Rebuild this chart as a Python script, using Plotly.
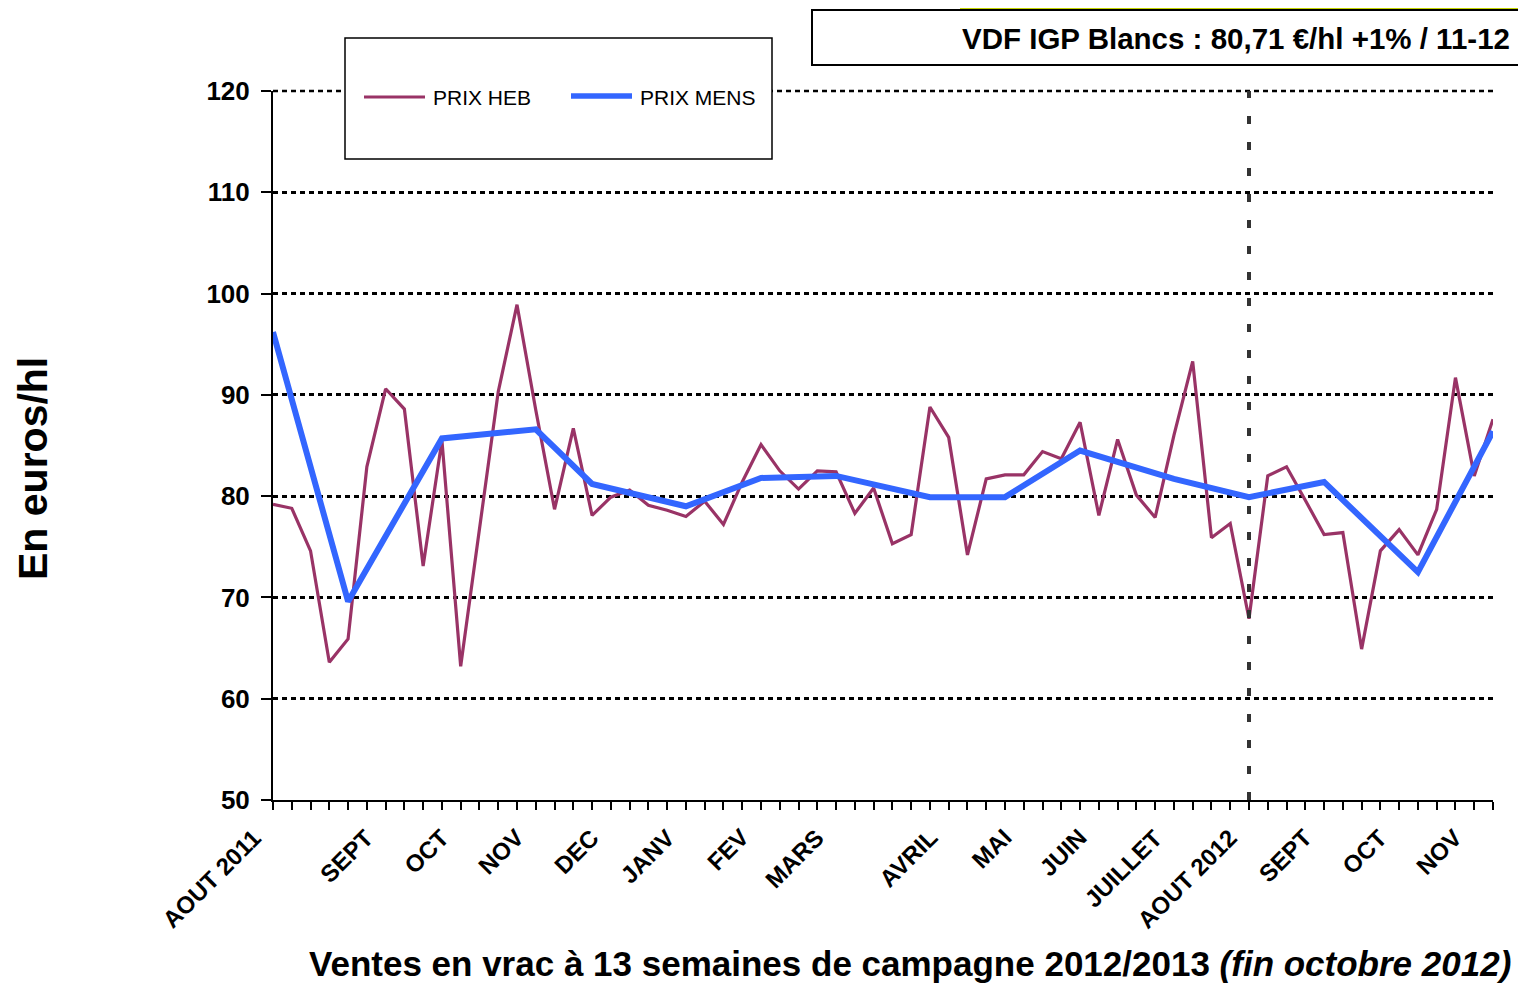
import plotly.graph_objects as go

# ---------------- data ----------------
weeks = list(range(66))
prix_heb = [79.2, 78.8, 74.6, 63.6, 65.9, 82.9, 90.6, 88.6, 73.1, 85.5,
            63.2, 76.8, 90.3, 98.9, 88.5, 78.7, 86.7, 78.1, 79.9, 80.6,
            79.1, 78.6, 78.0, 79.5, 77.2, 81.4, 85.1, 82.5, 80.7, 82.5,
            82.4, 78.3, 80.8, 75.3, 76.2, 88.8, 85.8, 74.2, 81.7, 82.1,
            82.1, 84.4, 83.7, 87.3, 78.1, 85.6, 80.1, 77.9, 86.0, 93.3,
            75.9, 77.3, 67.9, 82.0, 82.9, 79.6, 76.2, 76.4, 64.9, 74.6,
            76.7, 74.2, 78.7, 91.7, 82.0, 87.6]
mens_weeks = [0, 4, 9, 14, 17, 22, 26, 30, 35, 39, 43, 48, 52, 56, 61, 65]
prix_mens = [96.2, 69.6, 85.7, 86.6, 81.2, 79.0, 81.8, 82.0, 79.9, 79.9,
             84.5, 81.7, 79.9, 81.4, 72.5, 86.4]
label_weeks = [0, 6, 10, 14, 18, 22, 26, 30, 36, 40, 44, 48, 52, 56, 60, 64]
label_texts = ["AOUT 2011", "SEPT", "OCT", "NOV", "DEC", "JANV", "FEV", "MARS",
               "AVRIL", "MAI", "JUIN", "JUILLET", "AOUT 2012", "SEPT", "OCT", "NOV"]
campaign_start_week = 52
y_ticks = [50, 60, 70, 80, 90, 100, 110, 120]

# ---------------- geometry (page pixels; the page body adds an 8px margin) ----------------
OFF = 8
W, H = 1526 - OFF, 983 - OFF
L, R, T, B = 273, 1493, 91, 800  # plot area in page pixels


def px(x):
    return (x - L) / (R - L)


def py(y):
    return (B - y) / (B - T)


FONT = "Arial, Liberation Sans, sans-serif"
RED = "#993366"
BLUE = "#3366FF"
GRID_DASH = "5px,4px"

fig = go.Figure()
fig.add_trace(go.Scatter(x=weeks, y=prix_heb, mode="lines", name="PRIX HEB",
                         line=dict(color=RED, width=3.2), cliponaxis=False,
                         showlegend=False))
fig.add_trace(go.Scatter(x=mens_weeks, y=prix_mens, mode="lines", name="PRIX MENS",
                         line=dict(color=BLUE, width=6), cliponaxis=False,
                         showlegend=False))

shapes = []
# top dotted gridline (at the plot edge, drawn in paper space so it is not clipped)
shapes.append(dict(type="line", xref="paper", yref="paper", x0=0, x1=1, y0=1, y1=1,
                   line=dict(color="black", width=2.5, dash=GRID_DASH), layer="below"))
# vertical dashed line at start of campaign
shapes.append(dict(type="line", xref="x", yref="y", x0=campaign_start_week,
                   x1=campaign_start_week, y0=50, y1=120,
                   line=dict(color="#333333", width=4, dash="8px,18px"), layer="above"))
# legend box
shapes.append(dict(type="rect", xref="paper", yref="paper",
                   x0=px(345), x1=px(772), y0=py(159), y1=py(38),
                   line=dict(color="black", width=1.5), fillcolor="white"))
# legend samples
shapes.append(dict(type="line", xref="paper", yref="paper",
                   x0=px(364), x1=px(425), y0=py(97), y1=py(97),
                   line=dict(color=RED, width=3.2)))
shapes.append(dict(type="line", xref="paper", yref="paper",
                   x0=px(571), x1=px(632), y0=py(96), y1=py(96),
                   line=dict(color=BLUE, width=5.5)))
# top info box
shapes.append(dict(type="rect", xref="paper", yref="paper",
                   x0=px(812), x1=px(1524), y0=py(65), y1=py(10),
                   line=dict(color="black", width=2), fillcolor="white"))
# decoration bars at top (only partly inside the page area)
shapes.append(dict(type="rect", xref="paper", yref="paper",
                   x0=px(887), x1=px(960), y0=py(3), y1=py(-8),
                   line=dict(width=0), fillcolor="#86c47a"))
shapes.append(dict(type="rect", xref="paper", yref="paper",
                   x0=px(960), x1=px(1530), y0=py(3), y1=py(-8),
                   line=dict(width=0), fillcolor="#5f9e0a"))
shapes.append(dict(type="rect", xref="paper", yref="paper",
                   x0=px(960), x1=px(1530), y0=py(9), y1=py(3),
                   line=dict(width=0), fillcolor="#c4d400"))

annotations = [
    dict(xref="paper", yref="paper", x=px(431), y=py(98), xanchor="left", yanchor="middle",
         text="PRIX HEB", showarrow=False, font=dict(family=FONT, size=21, color="black")),
    dict(xref="paper", yref="paper", x=px(638), y=py(98), xanchor="left", yanchor="middle",
         text="PRIX MENS", showarrow=False, font=dict(family=FONT, size=21, color="black")),
    dict(xref="paper", yref="paper", x=px(1512), y=py(39), xanchor="right", yanchor="middle",
         text="<b>VDF IGP Blancs : 80,71 €/hl +1% / 11-12</b>", showarrow=False,
         font=dict(family=FONT, size=29.5, color="black")),
    dict(xref="paper", yref="paper", x=px(33), y=py(469), xanchor="center", yanchor="middle",
         text="<b>En euros/hl</b>", textangle=-90, showarrow=False,
         font=dict(family=FONT, size=41, color="black")),
    dict(xref="paper", yref="paper", x=px(910), y=py(963), xanchor="center", yanchor="middle",
         text="<b>Ventes en vrac à 13 semaines de campagne 2012/2013 <i>(fin octobre 2012)</i></b>",
         showarrow=False, font=dict(family=FONT, size=35, color="black")),
]
# month labels under the weekly category axis
for w, t in zip(label_weeks, label_texts):
    annotations.append(dict(xref="x", yref="paper", x=w, y=py(821), xanchor="right",
                            yanchor="top", text=t, textangle=-45, showarrow=False,
                            xshift=-4, font=dict(family=FONT, size=24, color="black",
                                                 weight="bold")))

fig.update_layout(
    width=W, height=H, autosize=False,
    margin=dict(l=L - OFF, r=W - (R - OFF), t=T - OFF, b=H - (B - OFF), pad=0),
    paper_bgcolor="white", plot_bgcolor="white",
    showlegend=False,
    shapes=shapes, annotations=annotations,
    xaxis=dict(range=[0, 65], tickmode="array", tickvals=weeks, showticklabels=False,
               ticks="outside", ticklen=8, tickwidth=2, tickcolor="black",
               showline=True, linecolor="black", linewidth=2, showgrid=False, zeroline=False),
    xaxis2=dict(range=[0, 65], overlaying="x", anchor="y", side="bottom",
                tickmode="array", tickvals=weeks, showticklabels=False,
                ticks="inside", ticklen=7, tickwidth=2, tickcolor="black",
                showline=False, showgrid=False, zeroline=False),
    yaxis=dict(range=[50, 120], tickmode="array", tickvals=y_ticks,
               ticks="outside", ticklen=10, tickwidth=2, tickcolor="black",
               showline=True, linecolor="black", linewidth=2,
               showgrid=True, gridcolor="black", gridwidth=2.5, griddash=GRID_DASH,
               zeroline=False,
               tickfont=dict(family=FONT, size=26, color="black", weight="bold"),
               ticklabelstandoff=6),
    yaxis2=dict(range=[50, 120], overlaying="y", anchor="x", side="left",
                tickmode="array", tickvals=y_ticks, showticklabels=False,
                ticks="inside", ticklen=7, tickwidth=2, tickcolor="black",
                showline=False, showgrid=False, zeroline=False),
)

fig.write_html("out.html")
